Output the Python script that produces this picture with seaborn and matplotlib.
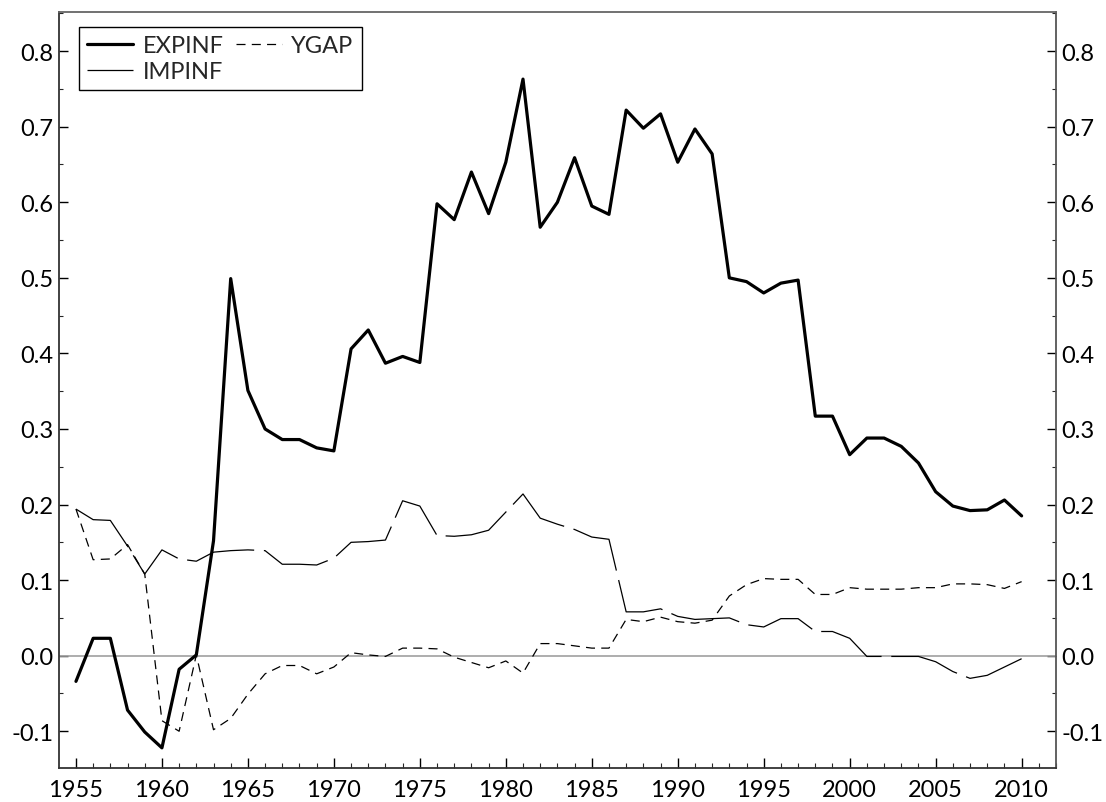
import numpy as np
import pandas as pd
import matplotlib
matplotlib.use("Agg")
import matplotlib.pyplot as plt
import seaborn as sns
from matplotlib.ticker import MultipleLocator

years = list(range(1955, 2011))

expinf = [-0.034, 0.023, 0.023, -0.072, -0.101, -0.122, -0.018, 0.001, 0.152, 0.499,
          0.351, 0.300, 0.286, 0.286, 0.275, 0.271, 0.406, 0.431, 0.387, 0.396,
          0.388, 0.598, 0.577, 0.640, 0.585, 0.653, 0.763, 0.567, 0.600, 0.659,
          0.595, 0.584, 0.722, 0.698, 0.717, 0.653, 0.697, 0.664, 0.500, 0.495,
          0.480, 0.493, 0.497, 0.317, 0.317, 0.266, 0.288, 0.288, 0.277, 0.255,
          0.217, 0.198, 0.192, 0.193, 0.206, 0.185]

impinf = [0.194, 0.180, 0.179, 0.145, 0.108, 0.140, 0.128, 0.125, 0.137, 0.139,
          0.140, 0.139, 0.121, 0.121, 0.120, 0.129, 0.150, 0.151, 0.153, 0.205,
          0.198, 0.159, 0.158, 0.160, 0.166, 0.190, 0.214, 0.182, 0.174, 0.167,
          0.157, 0.154, 0.058, 0.058, 0.062, 0.052, 0.048, 0.049, 0.050, 0.041,
          0.038, 0.049, 0.049, 0.032, 0.032, 0.023, -0.001, -0.001, -0.001, -0.001,
          -0.008, -0.021, -0.030, -0.026, -0.015, -0.004]

ygap = [0.194, 0.127, 0.128, 0.147, 0.108, -0.086, -0.100, 0.001, -0.098, -0.083,
        -0.051, -0.024, -0.013, -0.013, -0.024, -0.015, 0.004, 0.001, -0.001, 0.010,
        0.010, 0.009, -0.002, -0.009, -0.016, -0.007, -0.023, 0.016, 0.016, 0.013,
        0.010, 0.010, 0.048, 0.045, 0.051, 0.045, 0.043, 0.047, 0.079, 0.094,
        0.102, 0.101, 0.101, 0.081, 0.081, 0.090, 0.088, 0.088, 0.088, 0.090,
        0.090, 0.095, 0.095, 0.094, 0.089, 0.098]

series_names = ["EXPINF", "IMPINF", "YGAP"]
x_ticks = list(range(1955, 2011, 5))
y_ticks = [-0.1, 0.0, 0.1, 0.2, 0.3, 0.4, 0.5, 0.6, 0.7, 0.8]

sns.set_theme(style="white")
plt.rcParams['font.family'] = ['Lato', 'DejaVu Sans']
plt.rcParams['lines.scale_dashes'] = False

fig = plt.figure(figsize=(11.06, 8.03), dpi=100)
ax = fig.add_axes([0.0536, 0.042, 0.9012, 0.942])

ax.axhline(0, color='#a0a0a0', lw=1.2, zorder=1)

df = pd.DataFrame({"year": years, "EXPINF": expinf, "IMPINF": impinf, "YGAP": ygap})

sns.lineplot(data=df, x="year", y="EXPINF", ax=ax, color='black', lw=2.3,
             label="EXPINF", zorder=3)
sns.lineplot(data=df, x="year", y="IMPINF", ax=ax, color='black', lw=0.9,
             linestyle=(0, (50, 7)), label="IMPINF", zorder=2)
sns.lineplot(data=df, x="year", y="YGAP", ax=ax, color='black', lw=0.9,
             linestyle=(0, (6.5, 4.5)), label="YGAP", zorder=2)

ax.set_xlim(1954.03, 2012.0)
ax.set_ylim(-0.149, 0.852)
ax.set_xlabel("")
ax.set_ylabel("")

ax.xaxis.set_major_locator(MultipleLocator(5))
ax.xaxis.set_minor_locator(MultipleLocator(1))
ax.set_xticks(x_ticks)
ax.set_xticklabels([str(v) for v in x_ticks])
ax.set_yticks(y_ticks)
ax.set_yticklabels([f"{v:.1f}" for v in y_ticks])
ax.yaxis.set_minor_locator(MultipleLocator(0.05))

ax.tick_params(axis='x', which='major', direction='in', length=7, width=1, colors='black',
               labelsize=17, pad=8, bottom=True, top=False)
ax.tick_params(axis='x', which='minor', direction='in', length=3.6, width=0.8,
               bottom=True, top=False)
ax.tick_params(axis='y', which='major', direction='in', length=6.5, width=1, colors='black',
               labelsize=17, pad=4, left=True, right=True, labelleft=True, labelright=True)
ax.tick_params(axis='y', which='minor', direction='in', length=3, width=0.8,
               left=True, right=True)

for side, sp in ax.spines.items():
    sp.set_visible(True)
    sp.set_color('#333333')
    sp.set_linewidth(1.3)
ax.spines['top'].set_color('#666666')
ax.spines['right'].set_color('#555555')

lines = {l.get_label(): l for l in ax.get_lines() if l.get_label() in series_names}
handles = [lines[n] for n in series_names]
leg = ax.legend(handles, series_names, loc='upper left', bbox_to_anchor=(0.0198, 0.9798),
                borderaxespad=0, ncol=2, fontsize=17, frameon=True, fancybox=False,
                edgecolor='black', framealpha=1, handlelength=1.95, handletextpad=0.4,
                columnspacing=0.5, labelspacing=0.2, borderpad=0.35)
leg.get_frame().set_linewidth(1.0)

fig.savefig("out.png", dpi=100)
